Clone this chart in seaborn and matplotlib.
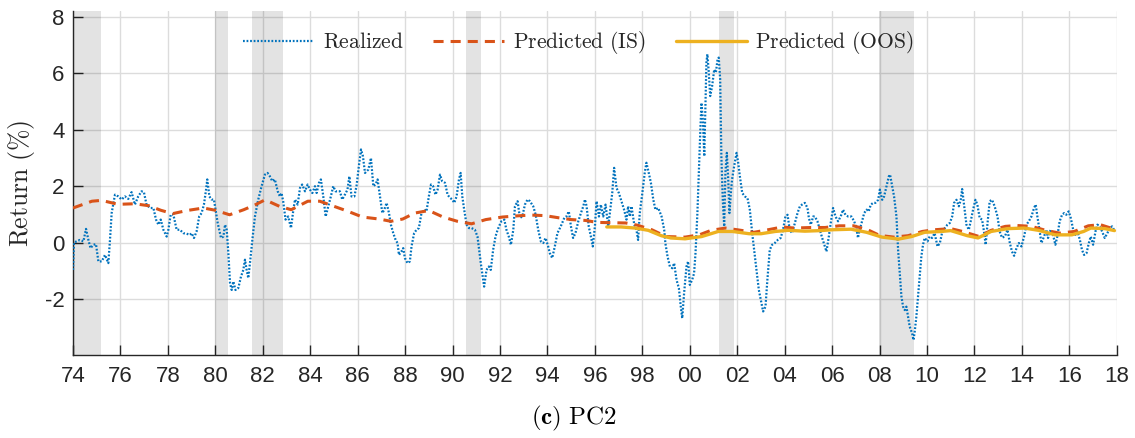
import matplotlib
matplotlib.use("Agg")
import matplotlib.pyplot as plt
import seaborn as sns
import pandas as pd

# ---------------- data ----------------
realized_t = [
    1974.00, 1974.04, 1974.15, 1974.29, 1974.44, 1974.55, 1974.65, 1974.74, 1974.86, 1974.97,
    1975.07, 1975.21, 1975.35, 1975.49, 1975.56, 1975.63, 1975.77, 1975.91, 1976.05, 1976.19,
    1976.33, 1976.47, 1976.61, 1976.75, 1976.89, 1976.99, 1977.10, 1977.25, 1977.39, 1977.50,
    1977.60, 1977.70, 1977.81, 1977.95, 1978.02, 1978.12, 1978.23, 1978.37, 1978.51, 1978.65,
    1978.79, 1978.93, 1979.00, 1979.10, 1979.21, 1979.32, 1979.42, 1979.52, 1979.61, 1979.66,
    1979.75, 1979.84, 1979.94,
    1980.10, 1980.24, 1980.34, 1980.41, 1980.48, 1980.55, 1980.62, 1980.69, 1980.76, 1980.85,
    1980.97, 1981.08, 1981.18, 1981.25, 1981.32, 1981.39, 1981.46, 1981.56, 1981.67, 1981.81,
    1981.95, 1982.09, 1982.20, 1982.30, 1982.40, 1982.51, 1982.63, 1982.72, 1982.79, 1982.86,
    1982.96, 1983.07, 1983.19, 1983.29, 1983.36, 1983.47, 1983.57, 1983.66, 1983.78, 1983.89,
    1983.99, 1984.09, 1984.20, 1984.27, 1984.37, 1984.45, 1984.55, 1984.65, 1984.76, 1984.87,
    1984.97, 1985.07, 1985.15, 1985.25, 1985.35, 1985.46, 1985.57, 1985.65, 1985.74, 1985.86,
    1985.95, 1986.05, 1986.14, 1986.22,
    1986.31, 1986.45, 1986.56, 1986.66, 1986.75, 1986.84, 1986.94, 1987.04, 1987.12, 1987.22,
    1987.32, 1987.40, 1987.50, 1987.60, 1987.68, 1987.74, 1987.85, 1987.92, 1987.99, 1988.10,
    1988.20, 1988.27, 1988.38, 1988.48, 1988.58, 1988.69, 1988.81, 1988.90, 1989.00, 1989.09,
    1989.18, 1989.28, 1989.37, 1989.47, 1989.56, 1989.68, 1989.79, 1989.89, 1989.99, 1990.07,
    1990.17, 1990.27, 1990.34, 1990.41, 1990.49, 1990.59, 1990.69, 1990.80, 1990.94, 1991.05,
    1991.12, 1991.19, 1991.25, 1991.33, 1991.43, 1991.53, 1991.61, 1991.71, 1991.81, 1991.90,
    1991.99, 1992.06, 1992.18, 1992.27, 1992.37, 1992.46, 1992.56, 1992.63,
    1992.74, 1992.84, 1992.94, 1993.05, 1993.16, 1993.26, 1993.40, 1993.50, 1993.61, 1993.72,
    1993.82, 1993.92, 1994.03, 1994.10, 1994.20, 1994.31, 1994.42, 1994.56, 1994.71, 1994.80,
    1994.90, 1994.99, 1995.08, 1995.18, 1995.30, 1995.41, 1995.51, 1995.58, 1995.65, 1995.74,
    1995.86, 1995.91, 1996.00, 1996.07, 1996.17, 1996.25, 1996.35, 1996.45, 1996.56, 1996.63,
    1996.73, 1996.81, 1996.91, 1997.01, 1997.12, 1997.23, 1997.33, 1997.40, 1997.47, 1997.54,
    1997.66, 1997.75, 1997.82, 1997.89, 1997.99, 1998.10, 1998.17, 1998.27, 1998.36, 1998.46,
    1998.55, 1998.67, 1998.81, 1998.92,
    1998.97, 1999.06, 1999.16, 1999.26, 1999.34, 1999.44, 1999.54, 1999.62, 1999.68, 1999.76,
    1999.86, 1999.93, 2000.00, 2000.10, 2000.18, 2000.24, 2000.32, 2000.38, 2000.44, 2000.49,
    2000.55, 2000.61, 2000.66, 2000.70, 2000.74, 2000.80, 2000.86, 2000.94, 2001.03, 2001.10,
    2001.17, 2001.22, 2001.28, 2001.33, 2001.39, 2001.45, 2001.50, 2001.56, 2001.62, 2001.67,
    2001.73, 2001.78, 2001.87, 2001.97, 2002.04, 2002.11, 2002.21, 2002.32, 2002.43, 2002.53,
    2002.63, 2002.71, 2002.81, 2002.91, 2003.02, 2003.09, 2003.19, 2003.27, 2003.37, 2003.47,
    2003.58, 2003.72, 2003.83, 2003.93, 2004.03, 2004.12, 2004.21, 2004.31, 2004.43, 2004.54,
    2004.64, 2004.73, 2004.85, 2004.96, 2005.02, 2005.10, 2005.20,
    2005.27, 2005.38, 2005.48, 2005.58, 2005.69, 2005.76, 2005.86, 2005.94, 2006.04, 2006.14,
    2006.25, 2006.36, 2006.46, 2006.56, 2006.67, 2006.81, 2006.93, 2007.02, 2007.09, 2007.16,
    2007.26, 2007.35, 2007.45, 2007.54, 2007.63, 2007.73, 2007.82, 2007.94, 2008.01, 2008.11,
    2008.19, 2008.29, 2008.39, 2008.44, 2008.53, 2008.61, 2008.71, 2008.78, 2008.85, 2008.92,
    2008.99, 2009.06, 2009.13, 2009.20, 2009.27, 2009.37, 2009.43, 2009.48, 2009.55, 2009.62,
    2009.69, 2009.76, 2009.83, 2009.90, 2010.02, 2010.11, 2010.21, 2010.32, 2010.44, 2010.54,
    2010.63, 2010.75, 2010.86, 2010.96, 2011.06, 2011.14, 2011.24, 2011.34, 2011.42, 2011.48,
    2011.56,
    2011.66, 2011.76, 2011.84, 2011.94, 2012.04, 2012.12, 2012.22, 2012.32, 2012.40, 2012.47,
    2012.55, 2012.64, 2012.74, 2012.85, 2012.97, 2013.06, 2013.16, 2013.28, 2013.39, 2013.49,
    2013.58, 2013.67, 2013.77, 2013.87, 2013.98, 2014.09, 2014.19, 2014.29, 2014.40, 2014.51,
    2014.58, 2014.65, 2014.75, 2014.82, 2014.93, 2015.03, 2015.10, 2015.21, 2015.31, 2015.41,
    2015.49, 2015.59, 2015.69, 2015.78, 2015.87, 2015.97, 2016.06, 2016.16, 2016.25, 2016.34,
    2016.44, 2016.53, 2016.62, 2016.72, 2016.82, 2016.90, 2017.00, 2017.10, 2017.18, 2017.28,
    2017.38, 2017.49, 2017.60, 2017.70, 2017.80, 2017.88,
]
realized_v = [
    -0.96, 0.00, 0.05, 0.10, 0.05, 0.49, 0.10, -0.19, -0.07, -0.05,
    -0.66, -0.66, -0.43, -0.72, 0.10, 1.05, 1.70, 1.64, 1.53, 1.64,
    1.55, 1.79, 1.35, 1.64, 1.82, 1.79, 1.35, 1.23, 1.23, 0.82,
    0.64, 0.82, 0.46, 0.22, 0.46, 1.00, 1.00, 0.46, 0.46, 0.34,
    0.32, 0.28, 0.34, 0.17, 0.40, 0.93, 1.05, 1.35, 1.88, 2.24,
    1.64, 1.53, 1.53,
    0.70, 0.17, 0.22, 0.64, 0.46, -0.37, -1.43, -1.67, -1.37, -1.67,
    -1.60, -1.20, -0.96, -0.60, -0.96, -1.25, -0.72, 0.10, 0.93, 1.53,
    2.00, 2.41, 2.47, 2.35, 2.18, 2.24, 1.82, 1.64, 1.76, 1.47,
    0.82, 0.93, 0.52, 1.17, 1.53, 1.35, 1.94, 2.06, 1.82, 2.06,
    1.88, 1.76, 2.00, 1.76, 2.12, 2.24, 1.64, 0.93, 1.29, 1.64,
    2.00, 1.82, 1.82, 1.82, 1.53, 1.70, 1.88, 2.35, 1.64, 1.64,
    2.00, 2.71, 3.30, 3.07,
    2.47, 2.59, 3.00, 2.00, 2.06, 2.24, 1.64, 1.05, 1.17, 1.41,
    1.05, 0.64, 0.34, 0.10, -0.01, -0.43, -0.30, -0.19, -0.54, -0.72,
    -0.66, -0.13, 0.34, 0.46, 0.52, 1.05, 1.17, 1.11, 1.64, 2.06,
    2.00, 1.70, 1.88, 2.41, 2.18, 2.12, 1.70, 1.59, 1.53, 1.41,
    1.64, 2.24, 2.47, 1.64, 1.17, 0.64, 0.52, 0.52, 0.46, 0.22,
    -0.25, -0.72, -1.08, -1.55, -0.96, -0.84, -0.96, -0.25, 0.22, 0.46,
    0.64, 0.76, 0.82, 0.46, 0.22, -0.07, 0.46, 1.29,
    1.47, 0.88, 0.93, 1.35, 1.53, 1.47, 1.29, 1.00, 0.46, 0.05,
    -0.01, 0.17, -0.13, -0.37, -0.54, -0.13, 0.34, 0.58, 0.88, 0.93,
    1.11, 0.58, 0.17, 0.34, 0.76, 1.05, 1.29, 1.53, 1.29, 0.58,
    0.10, -0.13, 0.58, 1.47, 0.93, 1.35, 0.93, 1.35, 0.58, 1.05,
    1.76, 2.65, 1.94, 1.76, 1.47, 1.17, 0.82, 1.29, 0.93, 1.29,
    0.64, 0.46, 0.10, 1.05, 1.70, 2.47, 2.83, 2.47, 2.12, 1.53,
    1.17, 1.23, 0.93, 0.46,
    -0.01, -0.48, -0.84, -0.90, -0.72, -1.31, -1.61, -2.26, -2.67, -1.78,
    -0.84, -0.66, -1.49, -1.31, -1.08, -0.37, 1.05, 2.47, 3.89, 4.95,
    4.36, 3.06, 4.83, 6.37, 6.67, 6.02, 5.19, 5.54, 6.13, 6.02,
    6.49, 6.55, 5.78, 3.06, 1.52, 0.58, 2.47, 3.18, 2.23, 1.05,
    1.76, 2.23, 2.71, 3.18, 2.83, 2.35, 1.76, 1.64, 1.58, 1.17,
    0.34, -0.25, -0.96, -1.67, -2.14, -2.43, -2.26, -1.31, -0.25, -0.07,
    -0.01, 0.11, 0.17, 0.46, 0.93, 0.99, 0.46, 0.34, 0.70, 1.05,
    1.29, 1.35, 1.41, 1.23, 0.87, 0.64, 0.93,
    0.93, 0.76, 0.46, 0.17, -0.13, -0.31, 0.22, 0.70, 1.23, 0.93,
    0.76, 0.93, 1.17, 0.99, 0.93, 0.93, 0.76, 0.52, 0.17, 0.46,
    0.76, 1.05, 1.17, 1.11, 1.35, 1.41, 1.41, 1.52, 1.88, 1.52,
    1.64, 2.00, 2.35, 2.41, 2.00, 1.64, 0.93, -0.25, -1.08, -1.90,
    -2.26, -2.38, -2.26, -2.61, -2.97, -3.20, -3.44, -3.14, -2.61, -1.90,
    -1.19, -0.48, -0.07, 0.17, 0.05, 0.22, 0.17, 0.34, -0.13, -0.01,
    0.34, 0.52, 0.64, 0.70, 0.93, 1.41, 1.52, 1.29, 1.52, 1.90,
    1.35,
    0.64, 0.46, 0.76, 1.17, 1.52, 1.35, 0.87, 0.82, 0.40, -0.07,
    0.70, 1.47, 1.52, 1.29, 0.93, 0.40, 0.18, 0.22, 0.46, -0.01,
    -0.31, -0.46, -0.19, -0.01, -0.13, 0.22, 0.64, 0.76, 0.93, 1.23,
    1.35, 0.93, 0.40, -0.01, 0.22, 0.46, 0.17, 0.46, 0.28, -0.07,
    0.22, 0.76, 0.99, 1.05, 0.99, 1.11, 0.87, 0.46, 0.28, 0.40,
    0.11, -0.25, -0.43, -0.37, -0.01, 0.22, -0.07, 0.40, 0.64, 0.58,
    0.40, 0.17, 0.34, 0.52, 0.58, 0.46,
]

pred_is_t = [
    1974.0, 1974.8, 1975.2, 1975.9, 1976.6, 1977.2, 1977.7, 1978.2, 1978.8, 1979.5,
    1980.0, 1980.6, 1981.2, 1981.7, 1982.1, 1982.7, 1983.2, 1983.9, 1984.4, 1985.0,
    1985.6, 1986.2, 1986.9, 1987.4, 1987.9, 1988.4, 1989.0, 1989.6, 1990.2, 1990.8,
    1991.4, 1992.1, 1992.7, 1993.3, 1993.9, 1994.5, 1995.0, 1995.6, 1996.1, 1996.7,
    1997.3, 1997.8, 1998.4, 1999.0, 1999.8, 2000.4, 2000.9, 2001.5, 2002.0, 2002.7,
    2003.3, 2003.9, 2004.4, 2005.1, 2005.7, 2006.3, 2006.9, 2007.5, 2008.0, 2008.6,
    2009.2, 2009.8, 2010.3, 2011.0, 2011.5, 2012.2, 2012.7, 2013.3, 2013.8, 2014.4,
    2015.0, 2015.6, 2016.2, 2016.8, 2017.3, 2017.9,
]
pred_is_v = [
    1.23, 1.47, 1.50, 1.36, 1.38, 1.31, 1.15, 1.03, 1.14, 1.23,
    1.15, 0.99, 1.17, 1.35, 1.52, 1.29, 1.17, 1.47, 1.47, 1.29,
    1.11, 0.91, 0.84, 0.76, 0.84, 1.05, 1.14, 0.91, 0.76, 0.67,
    0.82, 0.91, 0.95, 0.98, 0.96, 0.88, 0.82, 0.79, 0.72, 0.71,
    0.70, 0.62, 0.46, 0.22, 0.20, 0.28, 0.44, 0.52, 0.46, 0.37,
    0.46, 0.56, 0.52, 0.54, 0.54, 0.60, 0.60, 0.46, 0.26, 0.20,
    0.25, 0.40, 0.46, 0.50, 0.40, 0.22, 0.44, 0.58, 0.61, 0.58,
    0.44, 0.34, 0.40, 0.60, 0.64, 0.48,
]

pred_oos_t = [
    1996.5, 1997.1, 1997.7, 1998.25, 1998.8, 1999.2, 1999.8, 2000.5, 2001.2, 2001.8,
    2002.5, 2003.0, 2003.6, 2004.15, 2004.85, 2005.5, 2006.0, 2006.8, 2007.45, 2008.1,
    2008.8, 2009.35, 2009.9, 2010.6, 2011.0, 2011.7, 2012.15, 2012.7, 2013.4, 2014.1,
    2014.7, 2015.4, 2016.1, 2016.6, 2016.9, 2017.5, 2017.9,
]
pred_oos_v = [
    0.56, 0.56, 0.52, 0.44, 0.25, 0.17, 0.14, 0.22, 0.40, 0.40,
    0.32, 0.32, 0.40, 0.44, 0.41, 0.43, 0.46, 0.48, 0.37, 0.20,
    0.13, 0.22, 0.37, 0.40, 0.43, 0.25, 0.17, 0.40, 0.50, 0.52,
    0.44, 0.28, 0.28, 0.40, 0.52, 0.50, 0.43,
]

recession_start = [1973.9, 1980.0, 1981.55, 1990.58, 2001.22, 2007.98]
recession_end = [1975.2, 1980.55, 1982.87, 1991.2, 2001.88, 2009.45]

xtick_years = list(range(1974, 2019, 2))
xtick_labels = [f"{y % 100:02d}" for y in xtick_years]
ytick_vals = [-2, 0, 2, 4, 6, 8]

series_labels = [r"$\mathrm{Realized}$", r"$\mathrm{Predicted\ (IS)}$", r"$\mathrm{Predicted\ (OOS)}$"]
colors = ["#0072BD", "#D95319", "#EDB120"]

# ---------------- plot ----------------
sns.set_theme(style="white")
plt.rcParams["font.family"] = ["Liberation Sans", "DejaVu Sans"]
plt.rcParams["mathtext.fontset"] = "cm"

fig = plt.figure(figsize=(11.35, 4.38), dpi=100)
ax = fig.add_axes([0.0643, 0.1895, 0.9197, 0.7855])

for s, e in zip(recession_start, recession_end):
    ax.axvspan(s, e, color="black", alpha=0.11, lw=0, zorder=1)

df_real = pd.DataFrame({"t": realized_t, "v": realized_v})
df_is = pd.DataFrame({"t": pred_is_t, "v": pred_is_v})
df_oos = pd.DataFrame({"t": pred_oos_t, "v": pred_oos_v})

sns.lineplot(data=df_real, x="t", y="v", ax=ax, color=colors[0], lw=1.6,
             linestyle=(0, (0.8, 0.8)), estimator=None, label=series_labels[0], zorder=3)
sns.lineplot(data=df_is, x="t", y="v", ax=ax, color=colors[1], lw=2.2,
             linestyle=(0, (3.3, 2.3)), estimator=None, label=series_labels[1], zorder=4)
sns.lineplot(data=df_oos, x="t", y="v", ax=ax, color=colors[2], lw=2.4,
             linestyle="-", estimator=None, label=series_labels[2], zorder=5)

ax.set_xlim(1974, 2018)
ax.set_ylim(-3.97, 8.2)
ax.set_xticks(xtick_years)
ax.set_xticklabels(xtick_labels)
ax.set_yticks(ytick_vals)
ax.set_yticklabels([str(v) for v in ytick_vals])

ax.grid(True, color="#dcdcdc", lw=1.0, zorder=0)
ax.set_axisbelow(True)
for side in ["top", "right"]:
    ax.spines[side].set_visible(False)
for side in ["left", "bottom"]:
    ax.spines[side].set_color("#262626")
    ax.spines[side].set_linewidth(1.0)
ax.tick_params(axis="both", which="major", direction="in", length=7, width=1,
               bottom=True, left=True, top=False, right=False,
               colors="#262626", labelsize=16, labelcolor="#262626")
ax.tick_params(axis="x", pad=8)
ax.tick_params(axis="y", pad=6)

ax.set_xlabel("")
ax.set_ylabel(r"$\mathrm{Return\ (\%)}$", fontsize=18.5, color="#262626", labelpad=6)

ax.legend(loc="center", bbox_to_anchor=(0.484, 0.907), ncol=3, frameon=False,
          fontsize=15.5, handlelength=3.3, handletextpad=0.4, columnspacing=1.4)

fig.text(0.506, 0.045, r"$\mathbf{(c)}\ \mathrm{PC2}$", ha="center", va="center", fontsize=18,
         color="black")

fig.savefig("out.png", dpi=100)
